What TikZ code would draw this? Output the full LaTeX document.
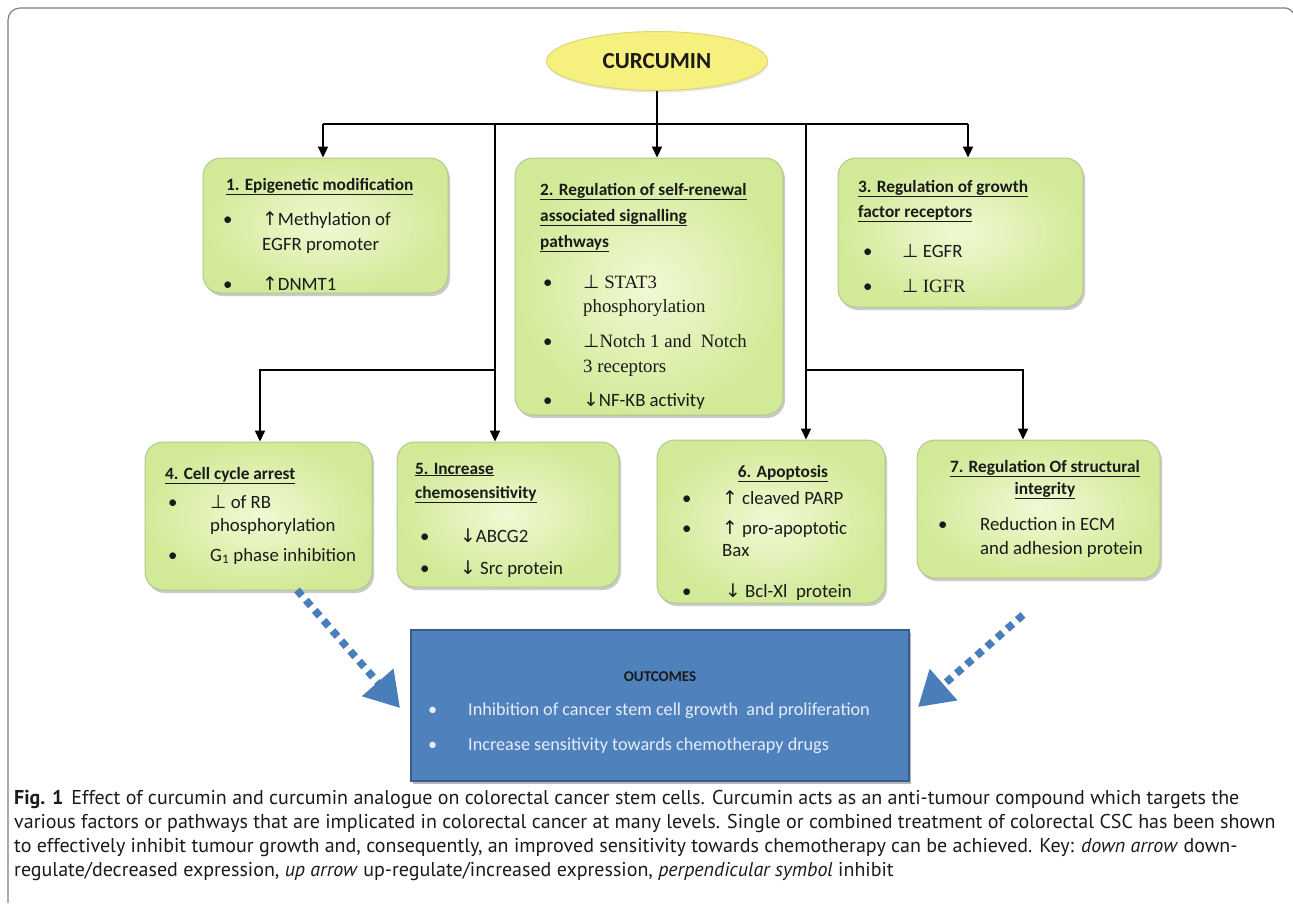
\documentclass[tikz,border=0pt]{standalone}
\usepackage{fontspec}
\setmainfont{Carlito}
\newfontfamily\symf{DejaVu Sans}
\newfontfamily\serf{Liberation Serif}
\newfontfamily\capf{PT Sans}
\usetikzlibrary{arrows.meta,shadows,shapes.geometric}
\definecolor{boxin}{HTML}{F1F9D4}
\definecolor{boxout}{HTML}{D2EA98}
\definecolor{boxedge}{HTML}{B2C98A}
\definecolor{yel}{HTML}{F6F07E}
\definecolor{yeledge}{HTML}{DED778}
\definecolor{blu}{HTML}{4F81BD}
\definecolor{bluedge}{HTML}{385D8A}
\definecolor{dotblue}{HTML}{4A7EBB}
\definecolor{outtxt}{HTML}{E6EDF7}
\definecolor{framec}{HTML}{7F7F7F}
\definecolor{txt}{HTML}{1A1A1A}
\newcommand\upa{{\symf\char"2191}}
\newcommand\dna{{\symf\char"2193}}
\newcommand\inh{{\symf\char"22A5}}
\tikzset{
  gbox/.style={rounded corners=18pt, draw=boxedge, line width=1pt,
    inner color=boxin, outer color=boxout, inner sep=0,
    drop shadow={shadow xshift=2pt, shadow yshift=-3pt, opacity=0.35, fill=black!60}},
  obox/.style={draw=bluedge, line width=1.2pt, fill=blu, inner sep=0,
    drop shadow={shadow xshift=2pt, shadow yshift=-3pt, opacity=0.4, fill=black!70}},
  tx/.style={inner sep=0, anchor=base west, text=txt, font=\fontsize{18.8}{22}\selectfont},
  ttl/.style={tx, font=\fontsize{17.3}{20}\selectfont\bfseries},
  conn/.style={line width=2.2pt, black},
  carr/.style={conn, -{Triangle[width=10pt,length=11pt]}},
  dotarrow/.style={draw=dotblue, line width=7.5pt, dash pattern=on 7.5pt off 6pt,
    -{Triangle[width=40pt,length=34pt]}},
  otx/.style={inner sep=0, anchor=base west, text=outtxt, font=\fontsize{18.2}{21}\selectfont},
  captx/.style={inner sep=0, anchor=base west, text=txt, font=\capf\fontsize{20}{23}\selectfont},
}
\begin{document}
\begin{tikzpicture}[x=1pt,y=-1pt]
\useasboundingbox (0,0) rectangle (1293,903);
% frame
\draw[framec, line width=1.2pt, rounded corners=12pt] (8,903) -- (8,8) -- (1286,8);
\draw[framec, line width=1.2pt] (1286,8) .. controls (1289,8) and (1291,10) .. (1293,13);

% curcumin
\node[ellipse, fill=yel, draw=yeledge, line width=1pt, minimum width=221pt, minimum height=59pt, inner sep=0,
  drop shadow={shadow xshift=1pt, shadow yshift=-2pt, opacity=0.2, fill=black!50}]
  (cur) at (657,61) {\fontsize{23}{26}\selectfont\bfseries\color{txt}CURCUMIN};

% boxes
\node[gbox, minimum width=245pt, minimum height=135pt] (b1) at (325.5,225.5) {};
\node[gbox, minimum width=268pt, minimum height=257pt] (b2) at (649,286.5) {};
\node[gbox, minimum width=245pt, minimum height=149pt] (b3) at (960.5,232.5) {};
\node[gbox, minimum width=227pt, minimum height=148pt] (b4) at (258.5,516) {};
\node[gbox, minimum width=222pt, minimum height=145pt] (b5) at (508,514.5) {};
\node[gbox, minimum width=228pt, minimum height=163pt] (b6) at (771,521.5) {};
\node[gbox, minimum width=243pt, minimum height=138pt] (b7) at (1038.5,509) {};

% connectors
\coordinate (hL) at (323,124);
\coordinate (hR) at (968,124);
\coordinate (hC) at (657,124);
\coordinate (tL) at (495,124);
\coordinate (tR) at (806,124);
\coordinate (bL) at (495,370);
\coordinate (bL2) at (260,370);
\coordinate (bR) at (806,370);
\coordinate (bR2) at (1023,370);
\draw[conn] (cur.south) -- (hC);
\draw[conn] (hL) -- (hR);
\draw[carr] (hL) -- (hL |- b1.north);
\draw[carr] (hC) -- (hC |- b2.north);
\draw[carr] (hR) -- (hR |- b3.north);
\draw[carr] (tL) -- (tL |- b5.north);
\draw[carr] (tR) -- (tR |- b6.north);
\draw[carr] (bL) -- (bL2) -- (bL2 |- b4.north);
\draw[carr] (bR) -- (bR2) -- (bR2 |- b7.north);

% box 1
\node[ttl] (t1) at (226,190) {\underline{1. Epigenetic modification}};
\node[tx] (p1a) at (223,225) {•};
\node[tx] (x1a) at (262,225) {\upa Methylation of};
\node[tx] (x1b) at (262,250) {EGFR promoter};
\node[tx] (p1b) at (223,290) {•};
\node[tx] (x1c) at (262,290) {\upa DNMT1};

% box 2
\node[ttl] (t2a) at (540,195) {\underline{2. Regulation of self-renewal}};
\node[ttl] (t2b) at (540,221) {\underline{associated signalling}};
\node[ttl] (t2c) at (540,247) {\underline{pathways}};
\node[tx] (p2a) at (543,288) {•};
\node[tx] (x2a) at (583,288) {\serf\inh\ STAT3};
\node[tx] (x2b) at (583,312) {\serf phosphorylation};
\node[tx] (p2b) at (543,347) {•};
\node[tx] (x2c) at (583,347) {\serf\inh Notch 1 and\ \ Notch};
\node[tx] (x2d) at (583,372) {\serf 3 receptors};
\node[tx] (p2c) at (543,406) {•};
\node[tx] (x2e) at (583,406) {\dna NF-KB activity};

% box 3
\node[ttl] (t3a) at (858,192) {\underline{3. Regulation of growth}};
\node[ttl] (t3b) at (858,217) {\underline{factor receptors}};
\node[tx] (p3a) at (863,257) {•};
\node[tx] (x3a) at (902,257) {\inh\ EGFR};
\node[tx] (p3b) at (863,292) {•};
\node[tx] (x3b) at (902,292) {\inh\ {\serf IGFR}};

% box 4
\node[ttl] (t4) at (165,479) {\underline{4. Cell cycle arrest}};
\node[tx] (p4a) at (168,508) {•};
\node[tx] (x4a) at (210,508) {\inh\ of RB};
\node[tx] (x4b) at (210,531) {phosphorylation};
\node[tx] (p4b) at (168,561) {•};
\node[tx] (x4c) at (210,561) {G\textsubscript{1} phase inhibition};

% box 5
\node[ttl] (t5a) at (415,474) {\underline{5. Increase}};
\node[ttl] (t5b) at (415,498) {\underline{chemosensitivity}};
\node[tx] (p5a) at (420,542) {•};
\node[tx] (x5a) at (460,542) {\dna ABCG2};
\node[tx] (p5b) at (420,574) {•};
\node[tx] (x5b) at (460,574) {\dna\ Src protein};

% box 6
\node[ttl, anchor=base] (t6) at (783,477) {\underline{6. Apoptosis}};
\node[tx] (p6a) at (682,504) {•};
\node[tx] (x6a) at (722,504) {\upa\ cleaved PARP};
\node[tx] (p6b) at (682,534) {•};
\node[tx] (x6b) at (722,534) {\upa\ pro-apoptotic};
\node[tx] (x6c) at (722,556) {Bax};
\node[tx] (p6c) at (682,597) {•};
\node[tx] (x6d) at (725,597) {\dna\ Bcl-Xl\ \ protein};

% box 7
\node[ttl, anchor=base] (t7a) at (1045,472) {\underline{7. Regulation Of structural}};
\node[ttl, anchor=base] (t7b) at (1045,494) {\underline{integrity}};
\node[tx] (p7a) at (938,530) {•};
\node[tx] (x7a) at (980,530) {Reduction in ECM};
\node[tx] (x7b) at (980,554) {and adhesion protein};

% outcomes
\node[obox, minimum width=498pt, minimum height=151pt] (out) at (660,705.5) {};
\node[inner sep=0, anchor=base, text=txt, font=\fontsize{15}{18}\selectfont\bfseries] (ot) at (660,681) {OUTCOMES};
\node[otx] (po1) at (428,715) {•};
\node[otx] (o1) at (468,715) {Inhibition of cancer stem cell growth\ \ and proliferation};
\node[otx] (po2) at (428,750) {•};
\node[otx] (o2) at (468,750) {Increase sensitivity towards chemotherapy drugs};

% blue dotted arrows
\coordinate (la) at (297,590);
\coordinate (lb) at (400,708);
\coordinate (ra) at (1023,615);
\coordinate (rb) at (918,707);
\draw[dotarrow] (la) -- (lb);
\draw[dotarrow] (ra) -- (rb);

% caption
\node[captx] (c1) at (14,804) {{\bfseries Fig. 1}\hspace{8pt}Effect of curcumin and curcumin analogue on colorectal cancer stem cells. Curcumin acts as an anti-tumour compound which targets the};
\node[captx] (c2) at (14,828) {various factors or pathways that are implicated in colorectal cancer at many levels. Single or combined treatment of colorectal CSC has been shown};
\node[captx] (c3) at (14,852) {to effectively inhibit tumour growth and, consequently, an improved sensitivity towards chemotherapy can be achieved. Key: \textit{down arrow} down-};
\node[captx] (c4) at (14,876) {regulate/decreased expression, \textit{up arrow} up-regulate/increased expression, \textit{perpendicular symbol} inhibit};
\end{tikzpicture}
\end{document}
